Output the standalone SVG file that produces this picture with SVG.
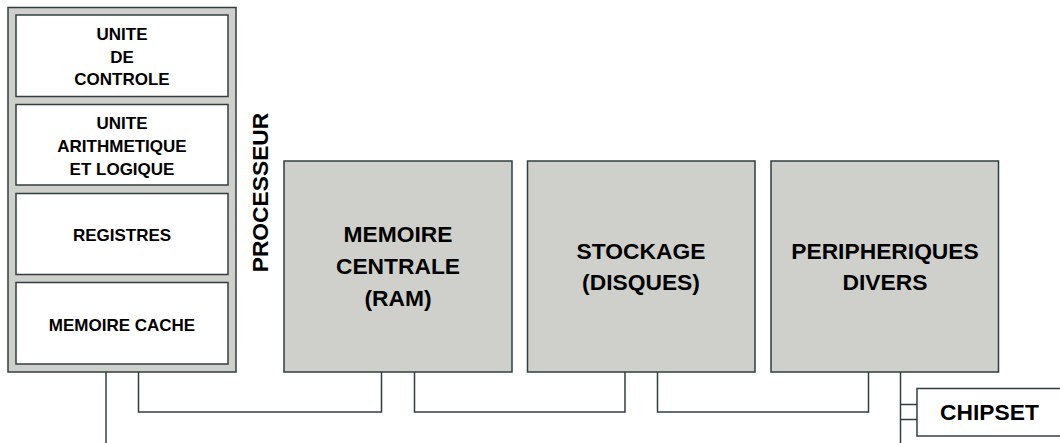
<svg xmlns="http://www.w3.org/2000/svg" width="1060" height="443" viewBox="0 0 1060 443">
<style>
.box{stroke:#2f3f40;stroke-width:1.5}
.grey{fill:#cfd0cb}
.white{fill:#ffffff}
.wire{fill:none;stroke:#2f3f40;stroke-width:1.5}
text{font-family:"Liberation Sans",Arial,sans-serif;font-weight:bold;fill:#000;text-anchor:middle}
.s{font-size:17px}
.b{font-size:22.8px}
</style>
<rect width="1060" height="443" fill="#fff"/>
<g id="processeur">
<rect class="box grey" x="8" y="7.5" width="228" height="364.5"/>
<text class="b" transform="translate(268 192.5) rotate(-90)" x="0" y="0">PROCESSEUR</text>
</g>
<g id="unite-controle">
<rect class="box white" x="16" y="15" width="212" height="81.5"/>
<text class="s" x="122" y="40">UNITE</text>
<text class="s" x="122" y="62.5">DE</text>
<text class="s" x="122" y="85">CONTROLE</text>
</g>
<g id="ual">
<rect class="box white" x="16" y="104.5" width="212" height="80.5"/>
<text class="s" x="122" y="128.5">UNITE</text>
<text class="s" x="122" y="151.5">ARITHMETIQUE</text>
<text class="s" x="122" y="174.5">ET LOGIQUE</text>
</g>
<g id="registres">
<rect class="box white" x="16" y="193.5" width="212" height="81"/>
<text class="s" x="122" y="241">REGISTRES</text>
</g>
<g id="cache">
<rect class="box white" x="16" y="282.5" width="212" height="81.5"/>
<text class="s" x="122" y="331">MEMOIRE CACHE</text>
</g>
<g id="ram">
<rect class="box grey" x="284" y="161" width="228" height="211"/>
<text class="b" x="398" y="241.5">MEMOIRE</text>
<text class="b" x="398" y="273.5">CENTRALE</text>
<text class="b" x="398" y="305.5">(RAM)</text>
</g>
<g id="stockage">
<rect class="box grey" x="527.5" y="161" width="227.5" height="211"/>
<text class="b" x="641" y="258.5">STOCKAGE</text>
<text class="b" x="641" y="290">(DISQUES)</text>
</g>
<g id="peripheriques">
<rect class="box grey" x="771" y="161" width="227.5" height="211"/>
<text class="b" x="885" y="258.5">PERIPHERIQUES</text>
<text class="b" x="885" y="289.5">DIVERS</text>
</g>
<g id="chipset">
<rect class="box white" x="917" y="388.5" width="160" height="47.5"/>
<text class="b" x="989.5" y="420">CHIPSET</text>
</g>
<g id="connectors">
<path class="wire" d="M106 372 V443"/>
<path class="wire" d="M138.5 372 V412 H381.5 V372"/>
<path class="wire" d="M414.5 372 V412 H625 V372"/>
<path class="wire" d="M657.5 372 V412 H868.5 V372"/>
<path class="wire" d="M900.5 372 V443"/>
<path class="wire" d="M900.5 404.5 H917 M900.5 419.5 H917"/>
</g>
</svg>
